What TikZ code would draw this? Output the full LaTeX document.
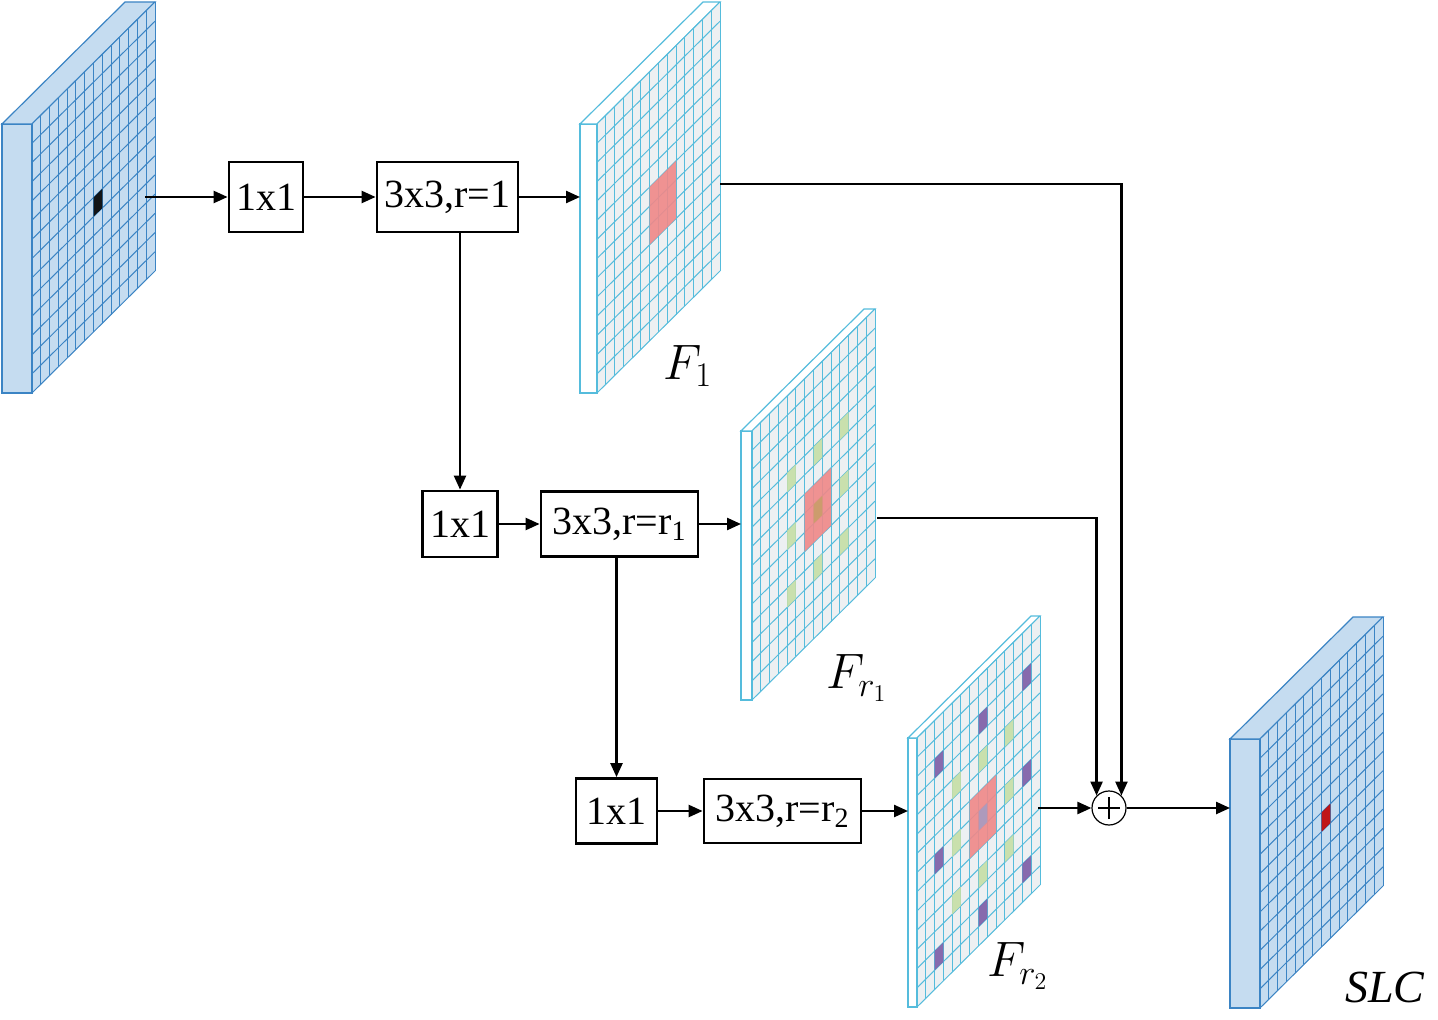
\documentclass[tikz,border=0pt]{standalone}
\usepackage{fontspec}
\setmainfont{Liberation Serif}
\usetikzlibrary{arrows.meta}
\definecolor{slabfill}{HTML}{C5DCF0}
\definecolor{slabline}{HTML}{3B84C4}
\definecolor{featline}{HTML}{55BCDC}
\definecolor{featfill}{HTML}{EDF0F2}
\definecolor{hot}{HTML}{F08888}
\definecolor{near}{HTML}{C6DFA6}
\definecolor{far}{HTML}{7C5CA6}
\definecolor{mixa}{HTML}{C99E6A}
\definecolor{mixb}{HTML}{A89CC2}
\definecolor{darkred}{HTML}{C00000}

% square patch of cells on a map face: col, row, size, colour
\newcommand{\cells}[4]{\fill[#4,opacity=.9] (#1,#2) -- ++(#3,0) -- ++(0,#3) -- ++(-#3,0) -- cycle;}
% feature map slab: x, y of front top-left, front width, kind, marked cells
\newcommand{\fmap}[5]{%
  \begin{scope}[shift={(#1,#2)}]
    \filldraw[#4 side] (0,0) rectangle (#3,269);
    \filldraw[#4 side] (0,0) -- (#3,0) -- ++(123,-122) -- ++(-#3,0) -- cycle;
    \begin{scope}[shift={(#3,0)},x={(4.393pt,4.357pt)},y={(0pt,-9.607pt)}]
      \fill[#4 face] (0,0) -- (14,0) -- (14,14) -- (0,14) -- cycle;
      \foreach \k in {0,...,14}{
        \draw[#4 grid] (\k,0) -- (\k,14);
        \draw[#4 grid] (0,\k) -- (14,\k);
      }
      #5
    \end{scope}
  \end{scope}}

\begin{document}
\begin{tikzpicture}[x=0.5pt,y=-0.5pt,
  slab side/.style={draw=slabline,fill=slabfill,line width=0.6pt},
  slab face/.style={fill=slabfill},
  slab grid/.style={draw=slabline,line width=0.5pt},
  feat side/.style={draw=featline,fill=white,line width=0.6pt},
  feat face/.style={fill=featfill},
  feat grid/.style={draw=featline,line width=0.5pt},
  box/.style={draw,line width=1.4pt,inner sep=0pt,minimum height=34pt,
    font=\fontsize{20}{24}\selectfont},
  lbl/.style={font=\fontsize{26}{30}\selectfont},
  arr/.style={-{Triangle[length=7pt,width=6pt]},line width=1.2pt},
  sum/.style={circle,draw,line width=0.6pt,minimum size=17pt,inner sep=0pt,
    path picture={
      \draw[line width=0.6pt] ([xshift=-5.5pt]path picture bounding box.center)
        -- ([xshift=5.5pt]path picture bounding box.center);
      \draw[line width=0.6pt] ([yshift=-5.5pt]path picture bounding box.center)
        -- ([yshift=5.5pt]path picture bounding box.center);}}
]
\useasboundingbox (0,0) rectangle (1438,1020);

% maps
\fmap{2}{124}{30}{slab}{\cells{7}{7}{1}{black}}
\fmap{580}{124}{17}{feat}{\cells{6}{6}{3}{hot}}
\fmap{741}{431}{11}{feat}{%
  \foreach \cx in {4,7,10}{\foreach \cy in {4,7,10}{\cells{\cx}{\cy}{1}{near}}}
  \cells{6}{6}{3}{hot}\cells{7}{7}{1}{mixa}}
\fmap{908}{738}{9}{feat}{%
  \foreach \cx in {2,7,12}{\foreach \cy in {2,7,12}{\cells{\cx}{\cy}{1}{far}}}
  \foreach \cx in {4,7,10}{\foreach \cy in {4,7,10}{\cells{\cx}{\cy}{1}{near}}}
  \cells{6}{6}{3}{hot}\cells{7}{7}{1}{mixb}}
\fmap{1230}{739}{30}{slab}{\cells{7}{7}{1}{darkred}}

\coordinate (inmap) at (145,197);
\coordinate (f1in) at (580,197);
\coordinate (f1out) at (720,184);
\coordinate (fr1in) at (741,524);
\coordinate (fr1out) at (877,518);
\coordinate (fr2in) at (908,811);
\coordinate (fr2out) at (1038,808);
\coordinate (outmap) at (1230,808);

% conv boxes
\node[box,minimum width=37pt,minimum height=35pt] (b1) at (266,197) {1x1};
\node[box,minimum width=70.5pt,minimum height=35pt] (c1) at (447.5,197) {3x3,r=1};
\node[box,minimum width=37.5pt,minimum height=33pt] (b2) at (460,524) {1x1};
\node[box,minimum width=78.5pt,minimum height=32.5pt] (c2) at (619.5,524) {3x3,r=r\textsubscript{1}};
\node[box,minimum width=40.5pt,minimum height=32.5pt] (b3) at (616.5,811) {1x1};
\node[box,minimum width=78.5pt,minimum height=32pt] (c3) at (782.5,811) {3x3,r=r\textsubscript{2}};
\node[sum] (sum) at (1109,808) {};

% labels
\node[lbl] (f1lbl) at (688,366) {$F_1$};
\node[lbl] (fr1lbl) at (857,678) {$F_{r_1}$};
\node[lbl] (fr2lbl) at (1018,966) {$F_{r_2}$};
\node[lbl,font=\fontsize{23}{27}\selectfont] (slclbl) at (1385,987) {$\mathit{SLC}$};

\draw[arr] (inmap) -- (b1);
\draw[arr] (b1) -- (c1);
\draw[arr] (c1) -- (f1in);
\draw[arr] (c1.south -| b2.north) -- (b2.north);
\draw[arr] (b2) -- (c2);
\draw[arr] (c2) -- (fr1in);
\draw[arr] (c2.south -| b3.north) -- (b3.north);
\draw[arr] (b3) -- (c3);
\draw[arr] (c3) -- (fr2in);
\draw[arr] (f1out) -| (sum.north east);
\draw[arr] (fr1out) -| (sum.north west);
\draw[arr] (fr2out) -- (sum);
\draw[arr] (sum) -- (outmap);
\end{tikzpicture}
\end{document}
